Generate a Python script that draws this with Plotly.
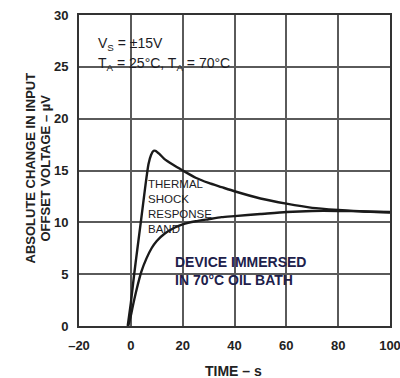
import plotly.graph_objects as go

# Upper boundary of thermal shock response band
upper_x = [-1.2, 0, 1.2, 2.5, 4.0, 5.5, 6.8, 7.8, 8.8, 9.5, 11, 13, 16, 20, 25, 30, 35, 40, 50, 60, 70, 80, 90, 100]
upper_y = [0, 2.2, 4.8, 7.4, 10.3, 13.3, 15.6, 16.5, 16.9, 16.9, 16.6, 16.1, 15.6, 15.0, 14.3, 13.8, 13.4, 13.0, 12.3, 11.8, 11.4, 11.2, 11.05, 11.0]

# Lower boundary
lower_x = [-1.0, 0, 1, 2.3, 4, 6, 8, 10, 13, 17, 20, 25, 30, 35, 40, 50, 60, 70, 80, 90, 100]
lower_y = [0, 1.0, 2.2, 3.6, 5.2, 6.5, 7.5, 8.2, 8.9, 9.5, 9.8, 10.1, 10.3, 10.5, 10.6, 10.8, 11.0, 11.1, 11.1, 11.05, 10.95]

x_ticks = [-20, 0, 20, 40, 60, 80, 100]
x_tick_text = ["\u201320", "0", "20", "40", "60", "80", "100"]
y_ticks = [0, 5, 10, 15, 20, 25, 30]

FONT = "Liberation Sans, Arial, sans-serif"
INK = "#1c1c24"

fig = go.Figure()
for xs, ys in [(upper_x, upper_y), (lower_x, lower_y)]:
    fig.add_trace(go.Scatter(x=xs, y=ys, mode="lines",
                             line=dict(color="#1a1a1a", width=2.4, shape="spline", smoothing=0.6),
                             showlegend=False, hoverinfo="skip"))

axis_common = dict(showgrid=True, gridcolor="#5a5a5a", gridwidth=1.7, showline=True, linecolor="#333333",
                   linewidth=2, mirror=True, ticks="outside", tickcolor="rgba(0,0,0,0)",
                   zeroline=False, automargin=False, ticklabeloverflow="allow",
                   tickfont=dict(family=FONT, size=13, color="#222222", weight="bold"))

L, R, T, B = 79, 10, 15, 52
W, H = 400, 378
PW, PH = W - L - R, H - T - B

fig.update_layout(
    width=W, height=H,
    margin=dict(l=L, r=R, t=T, b=B, autoexpand=False),
    paper_bgcolor="white", plot_bgcolor="white",
    xaxis=dict(range=[-20, 100], tickvals=x_ticks, ticktext=x_tick_text, ticklen=6, **axis_common),
    yaxis=dict(range=[0, 30], tickvals=y_ticks, ticklen=6, **axis_common),
)


def px(xp, yp):
    return (xp - L) / PW, (H - B - yp) / PH


ax_, ay_ = px(233, 362)
fig.add_annotation(x=ax_, y=ay_, xref="paper", yref="paper", yanchor="top", borderpad=0,
                   text="<b>TIME \u2013 s</b>", showarrow=False,
                   font=dict(family=FONT, size=14, color="#222222"))

for xp, t in [(20, "<b>ABSOLUTE CHANGE IN INPUT</b>"), (35, "<b>OFFSET VOLTAGE \u2013 \u00b5V</b>")]:
    ax_, ay_ = px(xp, 168)
    fig.add_annotation(x=ax_, y=ay_, xref="paper", yref="paper", textangle=-90,
                       text=t, showarrow=False, font=dict(family=FONT, size=13, color="#222222"))

ax_, ay_ = px(96, 33)
fig.add_annotation(x=ax_, y=ay_, xref="paper", yref="paper", xanchor="left",
                   text="V<sub>S</sub> = \u00b115V", showarrow=False,
                   font=dict(family=FONT, size=14, color=INK))
ax_, ay_ = px(96, 53)
fig.add_annotation(x=ax_, y=ay_, xref="paper", yref="paper", xanchor="left",
                   text="T<sub>A</sub> = 25\u00b0C, T<sub>A</sub> = 70\u00b0C", showarrow=False,
                   font=dict(family=FONT, size=14, color=INK))

ax_, ay_ = px(146, 176)
fig.add_annotation(x=ax_, y=ay_, xref="paper", yref="paper", xanchor="left", yanchor="top", align="left",
                   text="THERMAL<br>SHOCK<br>RESPONSE<br>BAND", showarrow=False,
                   font=dict(family=FONT, size=11.5, color=INK))

ax_, ay_ = px(173, 252)
fig.add_annotation(x=ax_, y=ay_, xref="paper", yref="paper", xanchor="left", yanchor="top", align="left",
                   text="<b>DEVICE IMMERSED<br>IN 70\u00b0C OIL BATH</b>", showarrow=False,
                   font=dict(family=FONT, size=14, color="#20204a"))

fig.write_html("out.html")
